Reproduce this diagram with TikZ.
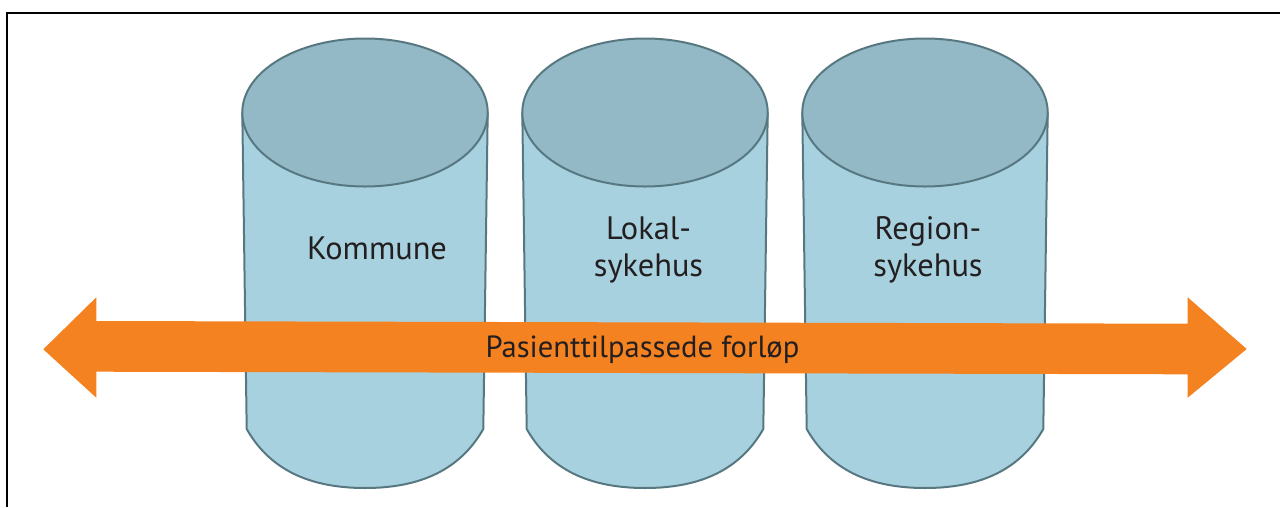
\documentclass[tikz,border=0pt]{standalone}
\usepackage{fontspec}
\setmainfont{PT Sans}
\definecolor{cylbody}{RGB}{167,209,222}
\definecolor{cyltop}{RGB}{147,185,198}
\definecolor{cylline}{RGB}{88,120,129}
\definecolor{flow}{RGB}{245,130,32}
\definecolor{ink}{RGB}{35,31,32}
\begin{document}
\begin{tikzpicture}[x={(1pt,0)}, y={(0,-1pt)},
  frame/.style={line width=2pt, black},
  cylside/.style={fill=cylbody, draw=cylline, line width=2pt, line join=round},
  cylcap/.style={fill=cyltop, draw=cylline, line width=2pt},
  flowarrow/.style={fill=flow, draw=none},
  lbl/.style={font=\fontsize{32.4pt}{37.7pt}\selectfont, text=ink, inner sep=0pt, align=center},
  flowlbl/.style={font=\fontsize{30.6pt}{36pt}\selectfont, text=ink, inner sep=0pt}]
\useasboundingbox (0,0) rectangle (1280,507);
% frame
\draw[frame] (7,507) -- (7,13) -- (1280,13);
% cylinders
\foreach \cx in {365,645,925}{
  \draw[cylside] (\cx-122.7,112.5) -- (\cx-118.3,429)
     .. controls (\cx-95,470) and (\cx-55,488) .. (\cx,488)
     .. controls (\cx+55,488) and (\cx+95,470) .. (\cx+118.3,429)
     -- (\cx+122.7,112.5) -- cycle;
  \draw[cylcap] (\cx,112.5) ellipse [x radius=122.7, y radius=74];
}
% labels
\node[lbl, anchor=base] (kommune) at (377,259.3) {Kommune};
\node[lbl, anchor=base] (lokal) at (648.5,276.7) {Lokal-\\sykehus};
\node[lbl, anchor=base] (region) at (928,276.7) {Region-\\sykehus};
% double arrow
\coordinate (ltip) at (43.3,349.3);
\coordinate (rtip) at (1246.7,349);
\fill[flowarrow] (ltip) -- (96.3,297.3) -- (96.3,321) -- (1187.7,323.7)
  -- (1187.7,297.3) -- (rtip) -- (1187.7,397.7) -- (1187.7,374.3)
  -- (96.3,371.7) -- (96.3,397.7) -- cycle;
\node[flowlbl, anchor=base] (flowtext) at (642.5,357.7) {Pasienttilpassede forløp};
\end{tikzpicture}
\end{document}
